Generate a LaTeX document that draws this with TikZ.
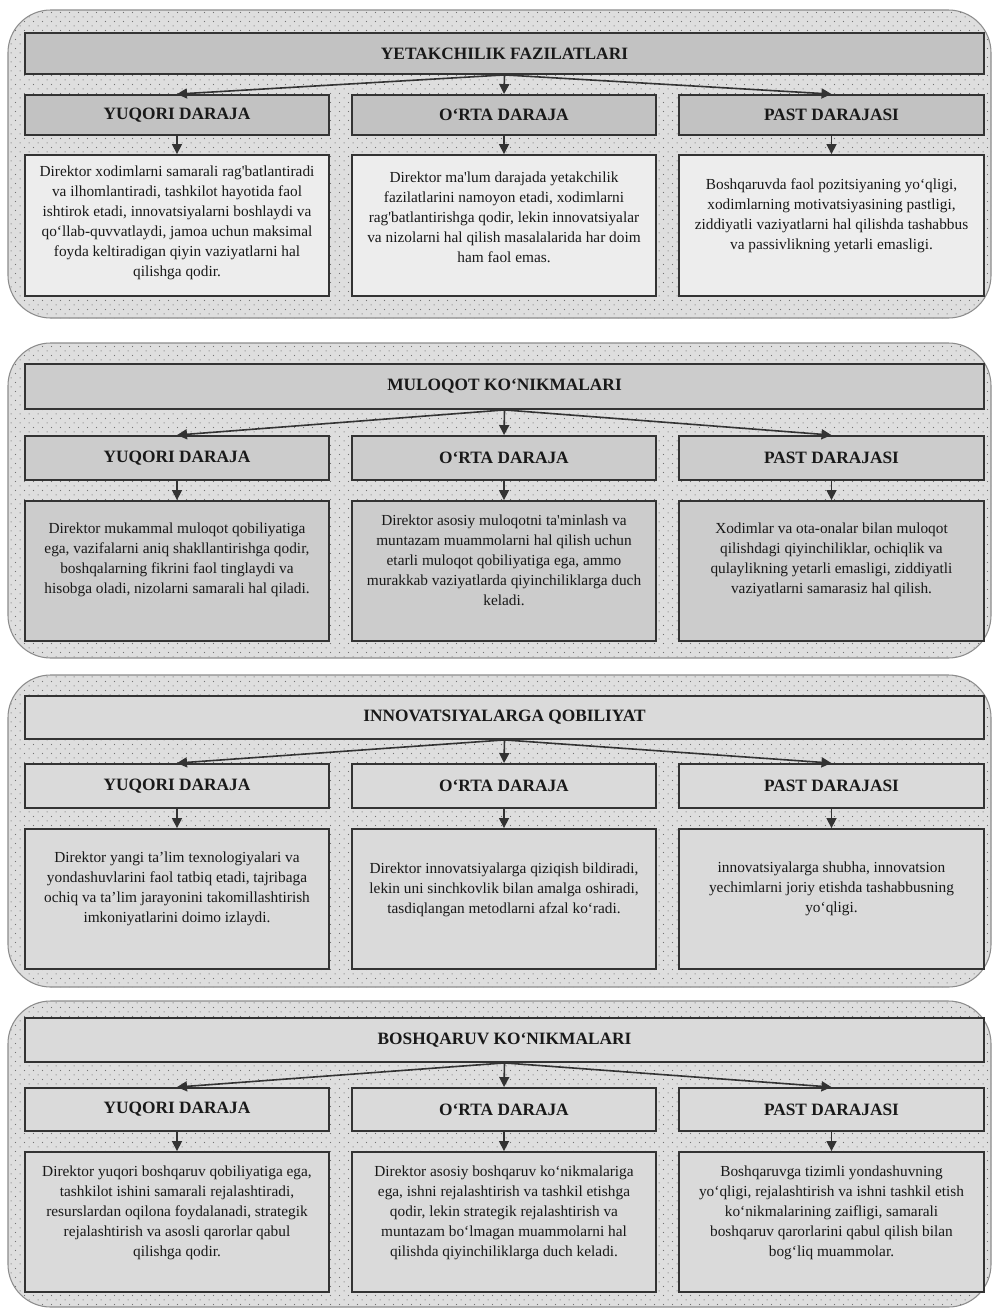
\documentclass[tikz,border=0pt]{standalone}
\usepackage{fontspec}
\setmainfont{Liberation Serif}
\usetikzlibrary{arrows.meta,patterns}
\pgfdeclarepatternformonly{stagdots}{\pgfpointorigin}{\pgfpoint{6.6pt}{6.6pt}}{\pgfpoint{6.6pt}{6.6pt}}{%
  \pgfpathcircle{\pgfpoint{1.65pt}{1.65pt}}{0.45pt}%
  \pgfpathcircle{\pgfpoint{4.95pt}{4.95pt}}{0.45pt}%
  \pgfusepath{fill}}
\definecolor{panelbg}{gray}{0.87}
\definecolor{dotc}{gray}{0.45}
\definecolor{hdrA}{gray}{0.76}
\definecolor{txtA}{gray}{0.93}
\definecolor{boxB}{gray}{0.80}
\definecolor{boxC}{gray}{0.855}
\definecolor{linec}{gray}{0.2}
\definecolor{panelline}{gray}{0.55}
\newcommand{\sq}{\textquotesingle}
\begin{document}
\begin{tikzpicture}[x=0.75pt,y=-0.75pt,
  panel/.style={draw=panelline,line width=0.8pt,rounded corners=32pt,
    preaction={fill=panelbg},pattern=stagdots,pattern color=dotc},
  wh/.style 2 args={minimum width=#1*0.75pt,minimum height=#2*0.75pt},
  box/.style={draw=linec,line width=1.4pt,rectangle,inner sep=0pt,align=center,text=black!90},
  hdr/.style={box,font=\bfseries\fontsize{13}{15}\selectfont},
  bodybox/.style={box},
  bodytxt/.style={inner sep=0pt,align=center,text=black!90,font=\fontsize{11.5}{15}\selectfont},
  arr/.style={draw=linec,line width=1.2pt,-{Triangle[length=7.5pt,width=7.5pt]}}]
\useasboundingbox (0,0) rectangle (994,1310);

% ---------------- Panel 1 ----------------
\path[panel] (8,10) rectangle (991,318);
\node[hdr,fill=hdrA,wh={959}{41}] (t1) at (504.5,53.5) {YETAKCHILIK FAZILATLARI};
\node[hdr,fill=hdrA,wh={304}{40}] (l1a) at (177,115) {YUQORI DARAJA};
\node[hdr,fill=hdrA,wh={304}{40}] (l1b) at (504,115) {O‘RTA DARAJA};
\node[hdr,fill=hdrA,wh={305}{40}] (l1c) at (831.5,115) {PAST DARAJASI};
\node[bodybox,fill=txtA,wh={304}{141}] (d1a) at (177,225.5) {};
\node[bodybox,fill=txtA,wh={304}{141}] (d1b) at (504,225.5) {};
\node[bodybox,fill=txtA,wh={305}{141}] (d1c) at (831.5,225.5) {};
\node[bodytxt] (x1a) at (177,223) {Direktor xodimlarni samarali rag\sq batlantiradi\\ va ilhomlantiradi, tashkilot hayotida faol\\ ishtirok etadi, innovatsiyalarni boshlaydi va\\ qo‘llab-quvvatlaydi, jamoa uchun maksimal\\ foyda keltiradigan qiyin vaziyatlarni hal\\ qilishga qodir.};
\node[bodytxt] (x1b) at (504,217) {Direktor ma\sq lum darajada yetakchilik\\ fazilatlarini namoyon etadi, xodimlarni\\ rag\sq batlantirishga qodir, lekin innovatsiyalar\\ va nizolarni hal qilish masalalarida har doim\\ ham faol emas.};
\node[bodytxt] (x1c) at (831.5,216) {Boshqaruvda faol pozitsiyaning yo‘qligi,\\ xodimlarning motivatsiyasining pastligi,\\ ziddiyatli vaziyatlarni hal qilishda tashabbus\\ va passivlikning yetarli emasligi.};
\draw[arr] (t1.south) -- (l1a.north);
\draw[arr] (t1.south) -- (l1b.north);
\draw[arr] (t1.south) -- (l1c.north);
\draw[arr] (l1a.south) -- (d1a.north);
\draw[arr] (l1b.south) -- (d1b.north);
\draw[arr] (l1c.south) -- (d1c.north);

% ---------------- Panel 2 ----------------
\path[panel] (8,343) rectangle (991,658);
\node[hdr,fill=boxB,wh={959}{45}] (t2) at (504.5,386.5) {MULOQOT KO‘NIKMALARI};
\node[hdr,fill=boxB,wh={304}{44}] (l2a) at (177,458) {YUQORI DARAJA};
\node[hdr,fill=boxB,wh={304}{44}] (l2b) at (504,458) {O‘RTA DARAJA};
\node[hdr,fill=boxB,wh={305}{44}] (l2c) at (831.5,458) {PAST DARAJASI};
\node[bodybox,fill=boxB,wh={304}{140}] (d2a) at (177,571) {};
\node[bodybox,fill=boxB,wh={304}{140}] (d2b) at (504,571) {};
\node[bodybox,fill=boxB,wh={305}{140}] (d2c) at (831.5,571) {};
\node[bodytxt] (x2a) at (177,560) {Direktor mukammal muloqot qobiliyatiga\\ ega, vazifalarni aniq shakllantirishga qodir,\\ boshqalarning fikrini faol tinglaydi va\\ hisobga oladi, nizolarni samarali hal qiladi.};
\node[bodytxt] (x2b) at (504,560) {Direktor asosiy muloqotni ta\sq minlash va\\ muntazam muammolarni hal qilish uchun\\ etarli muloqot qobiliyatiga ega, ammo\\ murakkab vaziyatlarda qiyinchiliklarga duch\\ keladi.};
\node[bodytxt] (x2c) at (831.5,560) {Xodimlar va ota-onalar bilan muloqot\\ qilishdagi qiyinchiliklar, ochiqlik va\\ qulaylikning yetarli emasligi, ziddiyatli\\ vaziyatlarni samarasiz hal qilish.};
\draw[arr] (t2.south) -- (l2a.north);
\draw[arr] (t2.south) -- (l2b.north);
\draw[arr] (t2.south) -- (l2c.north);
\draw[arr] (l2a.south) -- (d2a.north);
\draw[arr] (l2b.south) -- (d2b.north);
\draw[arr] (l2c.south) -- (d2c.north);

% ---------------- Panel 3 ----------------
\path[panel] (8,675) rectangle (991,987);
\node[hdr,fill=boxC,wh={959}{43}] (t3) at (504.5,717.5) {INNOVATSIYALARGA QOBILIYAT};
\node[hdr,fill=boxC,wh={304}{44}] (l3a) at (177,786) {YUQORI DARAJA};
\node[hdr,fill=boxC,wh={304}{44}] (l3b) at (504,786) {O‘RTA DARAJA};
\node[hdr,fill=boxC,wh={305}{44}] (l3c) at (831.5,786) {PAST DARAJASI};
\node[bodybox,fill=boxC,wh={304}{140}] (d3a) at (177,899) {};
\node[bodybox,fill=boxC,wh={304}{140}] (d3b) at (504,899) {};
\node[bodybox,fill=boxC,wh={305}{140}] (d3c) at (831.5,899) {};
\node[bodytxt] (x3a) at (177,889) {Direktor yangi ta’lim texnologiyalari va\\ yondashuvlarini faol tatbiq etadi, tajribaga\\ ochiq va ta’lim jarayonini takomillashtirish\\ imkoniyatlarini doimo izlaydi.};
\node[bodytxt] (x3b) at (504,890) {Direktor innovatsiyalarga qiziqish bildiradi,\\ lekin uni sinchkovlik bilan amalga oshiradi,\\ tasdiqlangan metodlarni afzal ko‘radi.};
\node[bodytxt] (x3c) at (831.5,889) {innovatsiyalarga shubha, innovatsion\\ yechimlarni joriy etishda tashabbusning\\ yo‘qligi.};
\draw[arr] (t3.south) -- (l3a.north);
\draw[arr] (t3.south) -- (l3b.north);
\draw[arr] (t3.south) -- (l3c.north);
\draw[arr] (l3a.south) -- (d3a.north);
\draw[arr] (l3b.south) -- (d3b.north);
\draw[arr] (l3c.south) -- (d3c.north);

% ---------------- Panel 4 ----------------
\path[panel] (8,1001) rectangle (991,1307);
\node[hdr,fill=boxC,wh={959}{44}] (t4) at (504.5,1040) {BOSHQARUV KO‘NIKMALARI};
\node[hdr,fill=boxC,wh={304}{43}] (l4a) at (177,1109.5) {YUQORI DARAJA};
\node[hdr,fill=boxC,wh={304}{43}] (l4b) at (504,1109.5) {O‘RTA DARAJA};
\node[hdr,fill=boxC,wh={305}{43}] (l4c) at (831.5,1109.5) {PAST DARAJASI};
\node[bodybox,fill=boxC,wh={304}{140}] (d4a) at (177,1222) {};
\node[bodybox,fill=boxC,wh={304}{140}] (d4b) at (504,1222) {};
\node[bodybox,fill=boxC,wh={305}{140}] (d4c) at (831.5,1222) {};
\node[bodytxt] (x4a) at (177,1213) {Direktor yuqori boshqaruv qobiliyatiga ega,\\ tashkilot ishini samarali rejalashtiradi,\\ resurslardan oqilona foydalanadi, strategik\\ rejalashtirish va asosli qarorlar qabul\\ qilishga qodir.};
\node[bodytxt] (x4b) at (504,1213) {Direktor asosiy boshqaruv ko‘nikmalariga\\ ega, ishni rejalashtirish va tashkil etishga\\ qodir, lekin strategik rejalashtirish va\\ muntazam bo‘lmagan muammolarni hal\\ qilishda qiyinchiliklarga duch keladi.};
\node[bodytxt] (x4c) at (831.5,1213) {Boshqaruvga tizimli yondashuvning\\ yo‘qligi, rejalashtirish va ishni tashkil etish\\ ko‘nikmalarining zaifligi, samarali\\ boshqaruv qarorlarini qabul qilish bilan\\ bog‘liq muammolar.};
\draw[arr] (t4.south) -- (l4a.north);
\draw[arr] (t4.south) -- (l4b.north);
\draw[arr] (t4.south) -- (l4c.north);
\draw[arr] (l4a.south) -- (d4a.north);
\draw[arr] (l4b.south) -- (d4b.north);
\draw[arr] (l4c.south) -- (d4c.north);
\end{tikzpicture}
\end{document}
